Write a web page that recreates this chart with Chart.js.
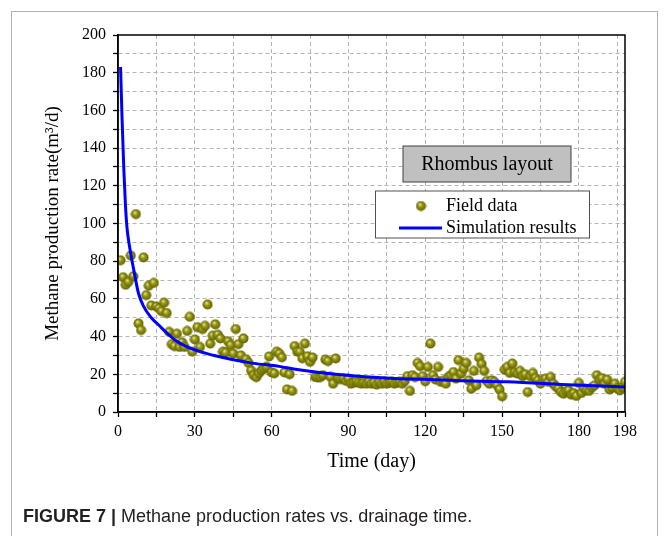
<!DOCTYPE html>
<html>
<head>
<meta charset="utf-8">
<script src="https://cdn.jsdelivr.net/npm/chart.js@4"></script>
<style>
body{margin:0;background:#fff;}
#caja{position:relative;width:665px;height:536px;overflow:hidden;}
#marco{position:absolute;left:11px;top:11px;width:645px;height:560px;border:1.5px solid #b0b0b0;}
#myChart{position:absolute;left:0;top:0;}
#pie{position:absolute;left:23px;top:506px;font-family:"Liberation Sans",Arial,sans-serif;font-size:18px;color:#231f20;white-space:nowrap;}
</style>
</head>
<body>
<div id="caja">
<div id="marco"></div>
<canvas id="myChart" width="665" height="536"></canvas>
<div id="pie"><b>FIGURE 7 |</b> Methane production rates vs. drainage time.</div>
</div>
<script>
let fieldDays=[1,2,3,4,5,6,7,8,9,10,
11,12,13,14,15,16,17,18,19,20,
21,22,23,24,25,26,27,28,29,30,
31,32,33,34,35,36,37,38,39,40,
41,42,43,44,45,46,47,48,49,50,
51,52,53,54,55,56,57,58,59,60,
61,62,63,64,65,66,67,68,69,70,
71,72,73,74,75,76,77,78,79,80,
81,82,83,84,85,86,87,88,89,90,
91,92,93,94,95,96,97,98,99,100,
101,102,103,104,105,106,107,108,109,110,
111,112,113,114,115,116,117,118,119,120,
121,122,123,124,125,126,127,128,129,130,
131,132,133,134,135,136,137,138,139,140,
141,142,143,144,145,146,147,148,149,150,
151,152,153,154,155,156,157,158,159,160,
161,162,163,164,165,166,167,168,169,170,
171,172,173,174,175,176,177,178,179,180,
181,182,183,184,185,186,187,188,189,190,
191,192,193,194,195,196,197,198];
let fieldRates=[80.5,71.5,67.5,69,83,72,105,47,43.5,82,
62,67,56.5,68.5,56,55,53.5,58,52.5,42.5,
36,35,41.5,34.5,37,34.5,43,50.5,32,38.5,
45,34.5,44,45.7,57,36.3,40.5,46.5,41,39,
32,31.5,37.5,35.5,31,44,36,30,39,28,
26,22,19.5,18.5,20.5,22,23,24,29.5,21,
20.5,32,31,29,21,12,20,11.2,35,32,
31.9,28.5,36.3,29.6,26.6,28.9,18.6,18.3,18.5,19.5,
27.8,27,18.6,15,28.4,17.7,17.5,17.7,16.5,17.7,
15,15.5,16,15.5,15,15.5,15,16,15,15.5,
14.5,15.5,15,16,15,15.5,16,15,15.5,16,
15,16.5,19,11.2,19.5,18.5,26,24.3,19,16.3,
23.9,36.3,19.5,17.2,23.9,16,16.5,15,18.6,19.5,
21.2,17.7,27.5,20.4,23,26,16.8,12.4,21.8,14.2,
28.9,25.5,21.8,16.5,15,16.8,16,14.2,12,8.3,
22.5,23.9,20.7,25.7,21,20.4,21.8,19,20,10.6,
19,20.7,18,16.8,15,17.2,17.7,16,18.6,15,
13.5,12.4,10.6,9.7,11,11.5,9.2,10,8.5,15.4,
10.1,12.5,11.5,11.2,13,14,19.5,17.2,18,15,
17.2,11.9,13,15,12.5,11.5,13,16];

let simDays=[1,1.6,2.3,2.9,3.5,4.6,6.2,8,10,13,16,19,23,27,32,38,45,53,63,70,82,95,108,121,134,152,178,198];
let simRates=[183,155,128,110,98,87,75,63,56,50,46,42,37.5,34.5,32,29.8,27.7,25.8,24.2,22.5,20.4,18.8,17.8,17.3,16.6,16,14.3,13.3];

let xTicks=[0,15,30,45,60,75,90,105,120,135,150,165,180,195,198];
let xLabels=[0,30,60,90,120,150,180,198];
let yLabels=[0,20,40,60,80,100,120,140,160,180,200];

function bola(){
    let cv=document.createElement('canvas');
    cv.width=11; cv.height=11;
    let g=cv.getContext('2d');
    let rg=g.createRadialGradient(4.3,3.8,0.3,5.5,5.5,5.3);
    rg.addColorStop(0,'#e4e4a8');
    rg.addColorStop(0.35,'#9c9c12');
    rg.addColorStop(1,'#5c5c00');
    g.fillStyle=rg;
    g.beginPath(); g.arc(5.5,5.5,5,0,Math.PI*2); g.fill();
    return cv;
}
let punto=bola();

let extras={
    id:'extras',
    afterDraw(chart){
        let c=chart.ctx, a=chart.chartArea;
        c.save();
        c.strokeStyle='#000'; c.lineWidth=1.5;
        c.strokeRect(a.left,a.top,a.right-a.left,a.bottom-a.top);

        // caja "Rhombus layout"
        c.fillStyle='#c0c0c0'; c.strokeStyle='#404040'; c.lineWidth=1;
        c.fillRect(a.left+285,a.top+111,168,36);
        c.strokeRect(a.left+285,a.top+111,168,36);
        c.fillStyle='#000';
        c.font='20px "Liberation Serif", serif';
        c.textAlign='center'; c.textBaseline='middle';
        c.fillText('Rhombus layout',a.left+369,a.top+129.5);

        // leyenda
        let ds=chart.data.datasets;
        c.fillStyle='#fff'; c.strokeStyle='#505050';
        c.fillRect(a.left+257.5,a.top+156,214,47);
        c.strokeRect(a.left+257.5,a.top+156,214,47);
        c.drawImage(punto,a.left+303-5.5,a.top+171-5.5);
        c.strokeStyle=ds[1].borderColor; c.lineWidth=3;
        c.beginPath(); c.moveTo(a.left+281,a.top+193); c.lineTo(a.left+324,a.top+193); c.stroke();
        c.fillStyle='#000'; c.textAlign='left';
        c.font='18px "Liberation Serif", serif';
        c.fillText(ds[0].label,a.left+328,a.top+171);
        c.fillText(ds[1].label,a.left+328,a.top+193);
        c.restore();
    }
};

let field=fieldDays.map((d,i)=>({x:d,y:fieldRates[i]}));
let sim=simDays.map((d,i)=>({x:d,y:simRates[i]}));

Chart.defaults.font.family='"Liberation Serif", "Times New Roman", serif';
Chart.defaults.color='#000';

var ctx=document.getElementById('myChart').getContext('2d');
var chart=new Chart(ctx,{
    type:'scatter',
    data:{
        datasets:[
            {
                label:'Field data',
                data:field,
                pointStyle:punto,
                order:1
            },
            {
                label:'Simulation results',
                type:'line',
                data:sim,
                borderColor:'#0000ff',
                borderWidth:3,
                pointRadius:0,
                fill:false,
                cubicInterpolationMode:'monotone',
                order:0
            }
        ]
    },
    options:{
        responsive:false,
        animation:false,
        events:[],
        layout:{padding:{left:38,top:35,right:40,bottom:58}},
        plugins:{legend:{display:false},tooltip:{enabled:false}},
        scales:{
            x:{
                type:'linear',min:0,max:198,
                afterBuildTicks(s){ s.ticks=xTicks.map(v=>({value:v})); },
                afterFit(s){ s.height=66; },
                ticks:{
                    autoSkip:false,maxRotation:0,padding:5,
                    font:{size:16},
                    callback:v=>xLabels.includes(v)?String(v):''
                },
                grid:{
                    color:c=>(c.tick&&(c.tick.value===198||c.tick.value===0))?'rgba(0,0,0,0)':'#b4b4b4',
                    lineWidth:1,tickLength:5,tickColor:'#000',tickWidth:1.3,tickBorderDash:[]
                },
                border:{color:'#000',width:1.5,dash:[4,3]},
                title:{display:true,text:'Time (day)',font:{size:20}}
            },
            y:{
                min:0,max:200,
                afterBuildTicks(s){
                    let t=[];
                    for(let v=0;v<=200;v+=10) t.push({value:v});
                    s.ticks=t;
                },
                afterFit(s){ s.width=80; },
                ticks:{
                    autoSkip:false,padding:7,
                    font:{size:16},
                    callback:v=>yLabels.includes(v)?String(v):''
                },
                grid:{
                    color:c=>(c.tick&&(c.tick.value===0||c.tick.value===200))?'rgba(0,0,0,0)':'#b4b4b4',
                    lineWidth:1,tickLength:5,tickColor:'#000',tickWidth:1.3,tickBorderDash:[]
                },
                border:{color:'#000',width:1.5,dash:[4,3]},
                title:{display:true,text:'Methane production rate(m³/d)',font:{size:19}}
            }
        }
    },
    plugins:[extras]
});
</script>
</body>
</html>
